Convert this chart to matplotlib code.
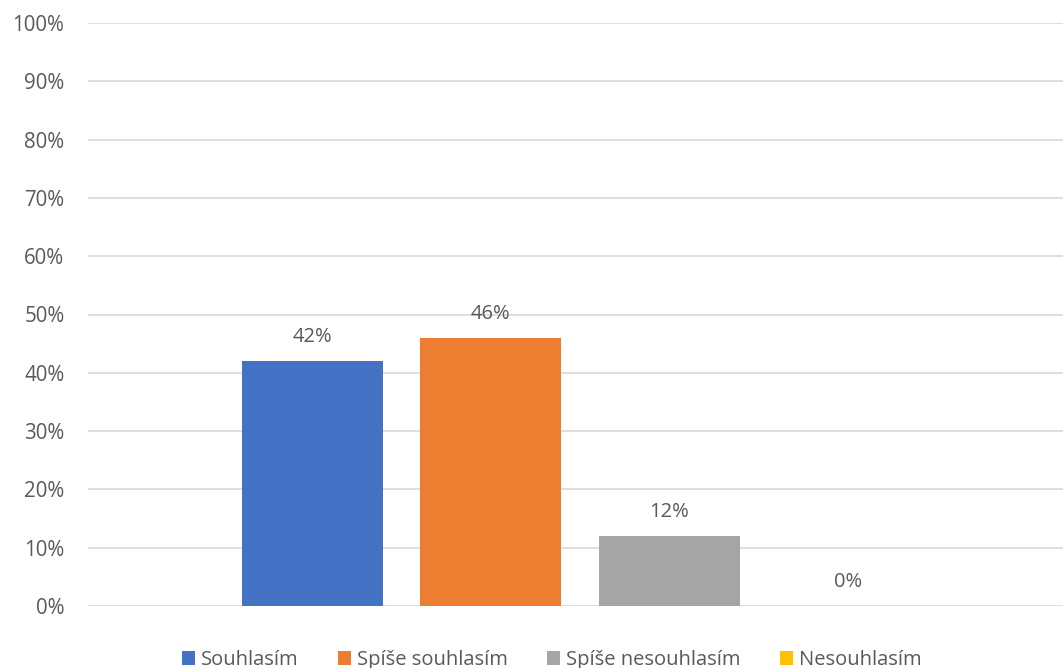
import matplotlib.pyplot as plt
from matplotlib.ticker import PercentFormatter

answers = ["Souhlasím", "Spíše souhlasím", "Spíše nesouhlasím", "Nesouhlasím"]
shares = [42, 46, 12, 0]
colors = ["#4472C4", "#ED7D31", "#A5A5A5", "#FFC000"]

plt.rcParams['font.family'] = ['Open Sans', 'DejaVu Sans']

fig = plt.figure(figsize=(10.63, 6.68), dpi=100)
ax = fig.add_axes([88 / 1063, 62 / 668, 1 - 88 / 1063, (606 - 23) / 668])

positions = range(len(answers))
bars = ax.bar(positions, shares, width=0.79, color=colors, label=answers, zorder=3)

for bar, value in zip(bars, shares):
    ax.annotate(f"{value}%", (bar.get_x() + bar.get_width() / 2, value),
                xytext=(0, 10), textcoords="offset points", ha="center", va="bottom",
                fontsize=14.5, color="#595959")

ax.set_ylim(0, 100)
ax.set_xlim(-1.255, 4.204)
ax.set_yticks(range(0, 101, 10))
ax.yaxis.set_major_formatter(PercentFormatter(decimals=0))
ax.set_xticks([])
ax.tick_params(axis="y", length=0, pad=17, labelsize=14.8, labelcolor="#595959")
ax.grid(axis="y", color="#D9D9D9", linewidth=1.2, zorder=0)
for spine in ax.spines.values():
    spine.set_visible(False)

fig.legend(handles=bars, labels=answers, loc="lower center", bbox_to_anchor=(0.519, -0.03),
           ncol=4, frameon=False, fontsize=14.5, handlelength=0.65, handleheight=0.65,
           handletextpad=0.3, columnspacing=1.95, labelcolor="#595959")

fig.savefig("out.png", dpi=100)
